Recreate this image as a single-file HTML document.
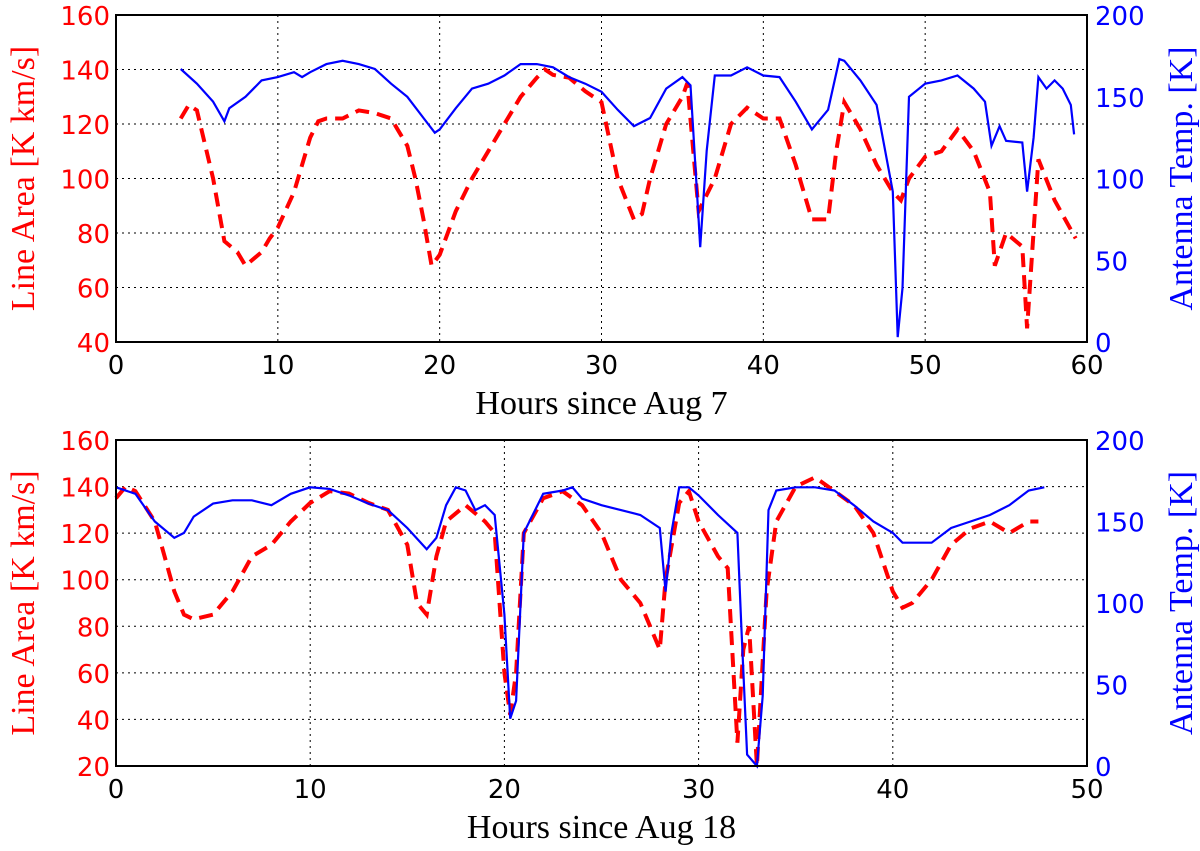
<!DOCTYPE html>
<html><head><meta charset="utf-8"><style>
body{margin:0;background:#fff;width:1200px;height:851px;overflow:hidden}
svg{display:block}
.tk{font-family:"DejaVu Sans","Liberation Sans",sans-serif;font-size:26px}
.lb{font-family:"Liberation Serif",serif;font-size:34px}
</style></head><body>
<svg id="c" width="1200" height="851"></svg>
<script>
const topHours=[4,4.5,5,6,6.7,7.5,8,9,9.5,10,11,12,12.5,13,14,15,16,17,18,18.5,19,19.5,20,21,22,23,24,25,26,26.5,27,28,29,30,31,32,32.5,33,34,35,35.3,35.6,36,37,38,39,40,41,42,43,44,44.5,45,46,47,48,48.5,49,50,51,52,53,54,54.3,55,56,56.3,57,58,59.3];
const topArea=[122,127,125,100,77,73,68,73,78,82,95,115,121,122,122,125,124,122,112,100,85,68,72,88,100,110,120,130,137,140,138,137,132,128,100,85,87,100,120,130,135,115,88,100,120,126,122,122,105,85,85,110,128,118,105,95,92,100,108,110,118,110,95,68,80,75,45,107,92,78];
const topTHours=[4,5,6,6.7,7,8,9,10,11,11.5,12,13,14,15,16,17,18,19,19.7,20,21,22,23,24,25,26,27,28,29,30,31,32,33,34,35,35.5,36,36.1,36.5,37,38,39,40,41,42,43,44,44.7,45,46,47,48,48.3,48.6,49,50,51,52,53,53.7,54.1,54.6,55,56,56.3,56.7,57,57.5,58,58.5,59,59.2];
const topTemp=[167,158,147,135,143,150,160,162,165,162,165,170,172,170,167,158,150,137,128,130,143,155,158,163,170,170,168,162,158,153,142,132,137,155,162,157,75,58,117,163,163,168,163,162,147,130,142,173,172,160,145,92,3,33,150,158,160,163,155,147,120,132,123,122,92,125,162,155,160,155,145,127];
const botHours=[0,0.5,1,2,2.5,3,3.5,4,5,6,7,8,9,10,11,12,13,14,15,15.5,16,16.5,17,18,19,19.5,20,20.3,20.6,21,22,23,24,25,26,27,27.5,28,28.3,29,29.5,30,31,31.5,32,32.3,32.6,33,33.5,34,35,36,37,38,39,40,40.5,41,42,43,44,45,46,47,47.5];
const botArea=[135,140,138,125,110,95,85,83,85,95,110,115,125,133,138,137,133,130,115,90,85,110,125,132,125,120,60,42,60,120,135,138,132,120,100,90,80,70,100,133,138,125,110,105,30,70,80,20,95,125,140,144,138,132,120,95,88,90,100,115,122,125,120,125,125];
const botTHours=[0,1,2,3,3.5,4,5,6,7,8,9,10,11,12,13,14,15,16,16.5,17,17.5,18,18.5,19,19.5,20,20.3,20.6,21,22,23,23.5,24,25,26,27,28,28.3,28.6,29,29.5,30,31,32,32.2,32.5,33,33.3,33.6,34,35,36,37,38,39,40,40.5,41,42,43,44,45,46,47,47.8];
const botTemp=[171,167,150,140,143,153,161,163,163,160,167,171,170,166,161,157,146,133,140,160,171,169,157,160,154,93,29,40,143,167,169,171,164,160,157,154,146,107,143,171,171,166,154,143,86,7,0,43,157,169,171,171,169,160,150,143,137,137,137,146,150,154,160,169,171];
const xTop=[0,10,20,30,40,50,60], yTopL=[40,60,80,100,120,140,160], yR=[0,50,100,150,200];
const xBot=[0,10,20,30,40,50], yBotL=[20,40,60,80,100,120,140,160];
const NS='http://www.w3.org/2000/svg', svg=document.getElementById('c');
function el(t,a,txt){const e=document.createElementNS(NS,t);for(const k in a)e.setAttribute(k,a[k]);if(txt!=null)e.textContent=txt;svg.appendChild(e);return e;}
function panel(p){
 const L=116,R=1087,T=p.top,B=p.bot;
 const sx=v=>L+(v-p.x0)/(p.x1-p.x0)*(R-L);
 const syL=v=>B-(v-p.l0)/(p.l1-p.l0)*(B-T);
 const syR=v=>B-v/200*(B-T);
 p.xt.forEach(v=>{if(v>p.x0&&v<p.x1){const g=el('line',{x1:sx(v),x2:sx(v),y1:T,y2:B,stroke:'#000','stroke-width':1,'stroke-dasharray':'2,4'});}
  const t=el('text',{x:sx(v),y:B+32,'text-anchor':'middle',class:'tk',fill:'#000'},v);});
 p.yl.forEach(v=>{if(v>p.l0&&v<p.l1){const g=el('line',{x1:L,x2:R,y1:syL(v),y2:syL(v),stroke:'#000','stroke-width':1,'stroke-dasharray':'2,4'});}
  const t=el('text',{x:L-6,y:syL(v)+10,'text-anchor':'end',class:'tk',fill:'#f00'},v);});
 yR.forEach(v=>{const t=el('text',{x:R+8,y:syR(v)+10,class:'tk',fill:'#00f'},v);});
 const pa=el('path',{d:p.ah.map((h,i)=>(i?'L':'M')+sx(h).toFixed(1)+','+syL(p.av[i]).toFixed(1)).join(''),fill:'none',stroke:'#f00','stroke-width':4,'stroke-dasharray':'14,8'});
 
 const pt=el('path',{d:p.th.map((h,i)=>(i?'L':'M')+sx(h).toFixed(1)+','+syR(p.tv[i]).toFixed(1)).join(''),fill:'none',stroke:'#00f','stroke-width':2.2});
 
 const fr=el('rect',{x:L,y:T,width:R-L,height:B-T,fill:'none',stroke:'#000','stroke-width':2});
 
 const xl=el('text',{x:(L+R)/2,y:B+72,'text-anchor':'middle',class:'lb',fill:'#000'},p.xlabel);
 
 const cy=(T+B)/2;
 const yl=el('text',{x:0,y:0,'text-anchor':'middle',class:'lb',fill:'#f00',transform:`translate(34,${cy}) rotate(-90)`},'Line Area [K km/s]');
 
 const yr=el('text',{x:0,y:0,'text-anchor':'middle',class:'lb',fill:'#00f',transform:`translate(1192,${cy}) rotate(-90)`},'Antenna Temp. [K]');
 
}
panel({top:15,bot:342,x0:0,x1:60,l0:40,l1:160,xt:xTop,yl:yTopL,ah:topHours,av:topArea,th:topTHours,tv:topTemp,xlabel:'Hours since Aug 7'});
panel({top:440,bot:766,x0:0,x1:50,l0:20,l1:160,xt:xBot,yl:yBotL,ah:botHours,av:botArea,th:botTHours,tv:botTemp,xlabel:'Hours since Aug 18'});
</script>
</body></html>
